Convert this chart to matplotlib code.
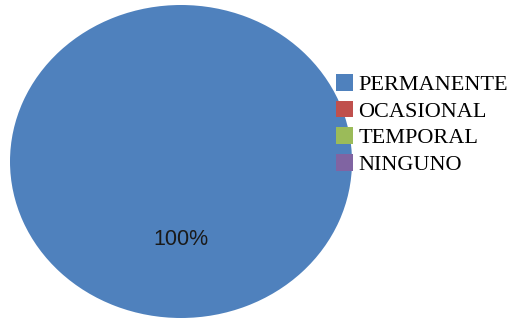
import matplotlib
matplotlib.use("Agg")
import matplotlib.pyplot as plt
from matplotlib.patches import Patch

categories = ["PERMANENTE", "OCASIONAL", "TEMPORAL", "NINGUNO"]
values = [100, 0, 0, 0]
colors = ["#4F81BD", "#C0504D", "#9BBB59", "#8064A2"]

W, H = 513, 320
fig = plt.figure(figsize=(W / 100, H / 100), dpi=100)
fig.patch.set_facecolor("white")

# pie bounding box in pixels: x 10..352, y 5..318 (top-down)
x0, x1, y0, y1 = 10, 352, 5, 318
ax = fig.add_axes([x0 / W, (H - y1) / H, (x1 - x0) / W, (y1 - y0) / H])

nonzero = [(v, c) for v, c in zip(values, colors) if v > 0]
total = sum(values)
wedges, texts = ax.pie(
    [v for v, _ in nonzero],
    colors=[c for _, c in nonzero],
    startangle=90,
    counterclock=False,
    labels=[f"{v / total * 100:.0f}%" for v, _ in nonzero],
    labeldistance=0.5,
    textprops=dict(fontsize=15.5, family="Liberation Sans", color="#1a1a1a"),
    radius=1.0,
)
for t in texts:
    t.set_ha("center")
    t.set_va("center")
ax.set_aspect("auto")
ax.set_xlim(-1, 1)
ax.set_ylim(-1, 1)
ax.axis("off")

handles = [Patch(facecolor=c, edgecolor="none") for c in colors]
leg = fig.legend(
    handles, categories,
    loc="upper left",
    bbox_to_anchor=(336 / W, 1 - 74 / H),
    frameon=False,
    prop=dict(family="Liberation Serif", size=16),
    handlelength=0.78, handleheight=0.78, handletextpad=0.22,
    labelspacing=0.25, borderaxespad=0, borderpad=0,
)

fig.savefig("out.png", dpi=100)
